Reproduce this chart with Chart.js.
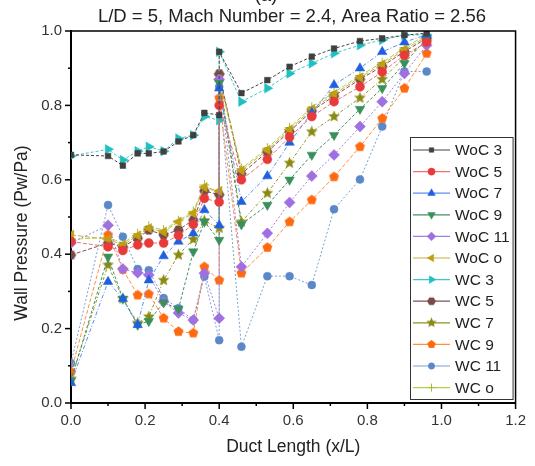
<!DOCTYPE html>
<html><head><meta charset="utf-8">
<script src="https://cdn.jsdelivr.net/npm/chart.js@4.4.1/dist/chart.umd.min.js"></script>
<style>html,body{margin:0;padding:0;background:#fff}#wrap{width:535px;height:466px}</style>
</head><body><div id="wrap"><canvas id="c" width="535" height="466"></canvas></div>
<script>
const xs = [0, 0.1, 0.14, 0.18, 0.21, 0.25, 0.29, 0.33, 0.36, 0.4, 0.4, 0.46, 0.53, 0.59, 0.65, 0.71, 0.78, 0.84, 0.9, 0.96];
const labels = ["WoC 3","WoC 5","WoC 7","WoC 9","WoC 11","WoC o","WC 3","WC 5","WC 7","WC 9","WC 11","WC o"];
const woc3  = [0.667,0.664,0.638,0.671,0.671,0.676,0.703,0.72,0.78,0.774,0.944,0.833,0.868,0.904,0.931,0.953,0.973,0.98,0.989,0.994];
const woc5  = [0.434,0.42,0.41,0.425,0.43,0.43,0.45,0.48,0.55,0.54,0.80,0.60,0.655,0.715,0.77,0.81,0.85,0.89,0.935,0.97];
const woc7  = [0.054,0.326,0.28,0.21,0.33,0.395,0.434,0.456,0.519,0.478,0.846,0.541,0.61,0.70,0.78,0.855,0.90,0.944,0.97,0.99];
const woc9  = [0.06,0.393,0.28,0.21,0.22,0.27,0.253,0.407,0.487,0.438,0.86,0.48,0.532,0.60,0.667,0.72,0.79,0.846,0.913,0.98];
const woc11 = [0.43,0.478,0.36,0.35,0.344,0.272,0.242,0.223,0.349,0.228,0.87,0.366,0.456,0.539,0.61,0.667,0.743,0.81,0.886,0.962];
const wocO  = [0.452,0.44,0.425,0.45,0.47,0.46,0.487,0.51,0.58,0.57,0.87,0.625,0.68,0.735,0.79,0.83,0.875,0.91,0.95,0.985];
const wc3   = [0.664,0.682,0.653,0.677,0.689,0.677,0.711,0.72,0.77,0.76,0.944,0.81,0.846,0.886,0.913,0.94,0.962,0.976,0.989,0.99];
const wc5   = [0.398,0.43,0.42,0.443,0.465,0.452,0.465,0.492,0.57,0.56,0.885,0.616,0.675,0.73,0.785,0.825,0.87,0.905,0.945,0.98];
const wc7   = [0.065,0.371,0.28,0.215,0.232,0.33,0.398,0.44,0.49,0.47,0.88,0.487,0.564,0.645,0.729,0.77,0.82,0.87,0.93,0.97];
const wc9   = [0.084,0.452,0.359,0.29,0.293,0.228,0.192,0.188,0.366,0.33,0.82,0.349,0.418,0.487,0.546,0.608,0.689,0.765,0.846,0.94];
const wc11  = [0.107,0.532,0.447,0.36,0.357,0.282,0.255,0.223,0.34,0.169,0.85,0.151,0.341,0.341,0.317,0.521,0.601,0.743,0.891,0.891];
const wcO   = [0.44,0.445,0.43,0.455,0.475,0.465,0.49,0.515,0.586,0.56,0.88,0.63,0.685,0.74,0.795,0.835,0.88,0.915,0.955,0.99];
const seriesValues = [woc3,woc5,woc7,woc9,woc11,wocO,wc3,wc5,wc7,wc9,wc11,wcO];
const xTicks = [0,0.2,0.4,0.6,0.8,1.0,1.2];
const yTicks = [0,0.2,0.4,0.6,0.8,1.0];

const FONT = "'Liberation Sans', Arial, sans-serif";

function polyCanvas(n, r, color, rot, star){
  const s = Math.ceil(r*2+2); const c = document.createElement('canvas'); c.width=s; c.height=s;
  const g = c.getContext('2d'); g.fillStyle=color; g.beginPath();
  const cx=s/2, cy=s/2; const pts = star? n*2 : n;
  for(let i=0;i<pts;i++){
    const a = rot + i*2*Math.PI/pts; const rr = star ? (i%2===0? r : r*0.45) : r;
    const x = cx + rr*Math.cos(a), y = cy + rr*Math.sin(a);
    if(i===0) g.moveTo(x,y); else g.lineTo(x,y);
  }
  g.closePath(); g.fill(); return c;
}
const pentagon = polyCanvas(5, 5.2, '#ff6a10', -Math.PI/2, false);
const hexagon  = polyCanvas(6, 5.2, '#7a4a48', 0, false);
const starImg  = polyCanvas(5, 6.2, '#8a8a10', -Math.PI/2, true);
const pentagonS = polyCanvas(5, 4.4, '#ff6a10', -Math.PI/2, false);
const hexagonS  = polyCanvas(6, 4.4, '#7a4a48', 0, false);
const starImgS  = polyCanvas(5, 5.4, '#8a8a10', -Math.PI/2, true);

const styles = [
  {line:'#444444', fill:'#404040', ps:'rect', r:4, rot:0},
  {line:'#f07070', fill:'#e83a3a', ps:'circle', r:4.5, rot:0},
  {line:'#5b8ef0', fill:'#2060e0', ps:'triangle', r:5.5, rot:0},
  {line:'#409060', fill:'#38905a', ps:'triangle', r:5.5, rot:180},
  {line:'#a080e0', fill:'#a070e0', ps:'rectRot', r:5.5, rot:0},
  {line:'#c8b040', fill:'#c0a010', ps:'triangle', r:5.5, rot:270},
  {line:'#40c8c8', fill:'#20c0c0', ps:'triangle', r:5.5, rot:90},
  {line:'#805050', fill:'#7a4a48', ps:hexagon, r:5, rot:0, small:hexagonS},
  {line:'#909020', fill:'#8a8a10', ps:starImg, r:6, rot:0, small:starImgS},
  {line:'#ff9040', fill:'#ff6a10', ps:pentagon, r:5, rot:0, small:pentagonS},
  {line:'#7aa0d0', fill:'#5a88c8', ps:'circle', r:4, rot:0},
  {line:'#b0d050', fill:'#a0c030', ps:'cross', r:5, rot:0}
];
const dashes = [[3,2],[4,2],[4,2,1,2],[3,2],[2,2],[5,2],[3,2],[4,2],[3,2,1,2],[4,2],[2,2],[5,2]];

const datasets = seriesValues.map((vals,i)=>({
  label: labels[i],
  data: vals.map((v,j)=>({x:xs[j], y:v})),
  showLine: true,
  borderColor: styles[i].line,
  borderWidth: 1,
  borderDash: dashes[i],
  backgroundColor: styles[i].fill,
  pointBorderColor: styles[i].fill,
  pointBackgroundColor: styles[i].fill,
  pointBorderWidth: i===11 ? 1 : 0.5,
  pointStyle: styles[i].ps,
  pointRotation: styles[i].rot,
  pointRadius: styles[i].r,
  pointHoverRadius: styles[i].r,
  tension: 0,
  fill: false
}));

const frame = {
  id:'frame',
  afterDraw(chart){
    const {ctx, chartArea:a, scales:{x, y}} = chart;
    ctx.save();
    ctx.strokeStyle='#000'; ctx.lineWidth=1.5;
    ctx.beginPath(); ctx.moveTo(a.left, a.top); ctx.lineTo(a.right, a.top); ctx.lineTo(a.right, a.bottom); ctx.stroke();
    for(let k=0;k<=12;k++){
      const v=k/10; const px=x.getPixelForValue(v); const len = k%2===0?6:3;
      ctx.beginPath(); ctx.moveTo(px, a.bottom); ctx.lineTo(px, a.bottom+len); ctx.stroke();
    }
    for(let k=0;k<=10;k++){
      const v=k/10; const py=y.getPixelForValue(v); const len = k%2===0?6:3;
      ctx.beginPath(); ctx.moveTo(a.left, py); ctx.lineTo(a.left-len, py); ctx.stroke();
    }
    ctx.fillStyle='#222'; ctx.textAlign='center'; ctx.textBaseline='middle';
    ctx.font = "18.5px "+FONT;
    ctx.fillText("L/D = 5, Mach Number = 2.4, Area Ratio = 2.56", 292, 17);
    ctx.fillText("(a)", 266, -4);
    ctx.font = "17.5px "+FONT;
    ctx.fillText("Duct Length (x/L)", (a.left+a.right)/2, 447);
    ctx.save(); ctx.translate(22, 233); ctx.rotate(-Math.PI/2);
    ctx.fillText("Wall Pressure (Pw/Pa)", 0, 0); ctx.restore();
    const lx0=410, lx1=a.right-3, ly0=137, ly1=399;
    ctx.fillStyle='#fff'; ctx.fillRect(lx0, ly0, lx1-lx0, ly1-ly0);
    ctx.strokeStyle='#333'; ctx.lineWidth=1; ctx.setLineDash([]);
    ctx.strokeRect(lx0+0.5, ly0+0.5, lx1-lx0, ly1-ly0);
    ctx.font = "15.5px "+FONT; ctx.textAlign='left';
    chart.data.datasets.forEach((ds,i)=>{
      const yy = ly0 + 13 + i*21.6;
      ctx.strokeStyle = ds.borderColor; ctx.lineWidth=1.2;
      ctx.beginPath(); ctx.moveTo(413, yy); ctx.lineTo(450, yy); ctx.stroke();
      ctx.save(); ctx.fillStyle=ds.pointBackgroundColor; ctx.strokeStyle=ds.pointBorderColor; ctx.lineWidth=ds.pointBorderWidth;
      const st = styles[i];
      Chart.helpers.drawPoint(ctx, {pointStyle: st.small || ds.pointStyle, rotation: ds.pointRotation, radius: ds.pointRadius*0.8, borderWidth: ds.pointBorderWidth}, 431.5, yy);
      ctx.restore();
      ctx.fillStyle='#222'; ctx.textBaseline='middle';
      ctx.fillText(ds.label, 455, yy+1);
    });
    ctx.restore();
  }
};

new Chart(document.getElementById('c'), {
  type:'scatter',
  data:{datasets},
  options:{
    responsive:false, animation:false, events:[],
    layout:{padding:{left:0, right:15, top:31, bottom:0}},
    plugins:{legend:{display:false}, title:{display:false}, tooltip:{enabled:false}},
    scales:{
      x:{type:'linear', min:0, max:1.2,
        afterFit(s){ s.height = 63; },
        afterBuildTicks(s){ s.ticks = xTicks.map(v=>({value:v})); },
        grid:{display:false, drawTicks:false},
        border:{display:true, color:'#000', width:2},
        ticks:{padding:9, color:'#333', font:{family:FONT, size:15}, callback:v=>v.toFixed(1)}
      },
      y:{type:'linear', min:0, max:1.0,
        afterFit(s){ s.width = 71; },
        afterBuildTicks(s){ s.ticks = yTicks.map(v=>({value:v})); },
        grid:{display:false, drawTicks:false},
        border:{display:true, color:'#000', width:2},
        ticks:{padding:9, color:'#333', font:{family:FONT, size:15}, callback:v=>v.toFixed(1)}
      }
    }
  },
  plugins:[frame]
});
</script></body></html>
